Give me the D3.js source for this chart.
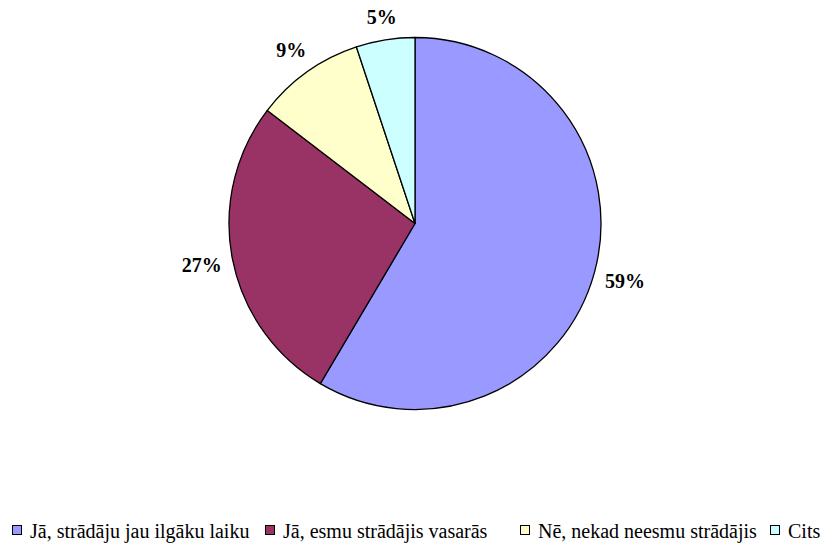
<!DOCTYPE html>
<html>
<head>
<meta charset="utf-8">
<script src="https://cdn.jsdelivr.net/npm/d3@7"></script>
<style>
  html, body { margin: 0; padding: 0; background: #fff; }
  svg { display: block; }
</style>
</head>
<body>
<svg id="chart" width="825" height="545"></svg>
<script>
// ---- data ----
const categories = [
  "Jā, strādāju jau ilgāku laiku",
  "Jā, esmu strādājis vasarās",
  "Nē, nekad neesmu strādājis",
  "Cits"
];
const values = [58.5, 26.9, 9.5, 5.1];
const valueLabels = ["59%", "27%", "9%", "5%"];
const colors = ["#9999FF", "#993366", "#FFFFCC", "#CCFFFF"];

// ---- layout ----
const svg = d3.select("#chart");
const cx = 415, cy = 223.5, r = 186;
const FONT = "Times New Roman, Liberation Serif, DejaVu Serif, serif";

const pie = d3.pie().sort(null).value(d => d)
  .startAngle(0).endAngle(2 * Math.PI);
const arcs = pie(values);
const arc = d3.arc().innerRadius(0).outerRadius(r);

const g = svg.append("g").attr("transform", `translate(${cx},${cy})`);
g.selectAll("path.slice").data(arcs).enter().append("path")
  .attr("class", "slice")
  .attr("d", arc)
  .attr("fill", (d, i) => colors[i])
  .attr("stroke", "#000")
  .attr("stroke-width", 1.3)
  .attr("stroke-linejoin", "round");

// labels outside, positioned so the box sits a fixed gap away from the arc
const gap = 9.5;
g.selectAll("text.lbl").data(arcs).enter().append("text")
  .attr("class", "lbl")
  .attr("font-family", FONT)
  .attr("font-weight", "bold")
  .attr("font-size", 20)
  .attr("text-anchor", "middle")
  .text((d, i) => valueLabels[i])
  .each(function (d) {
    const w = this.getComputedTextLength();
    const a = (d.startAngle + d.endAngle) / 2;
    const sx = Math.sin(a), cyy = -Math.cos(a);
    const hw = w / 2, hh = 11;
    const ext = Math.abs(sx) * hw + Math.abs(cyy) * hh;
    const dist = r + gap + ext;
    d3.select(this).attr("x", sx * dist).attr("y", cyy * dist + 7);
  });

// legend
const legendX = [12, 265, 520, 770];
const ly = 525;
const legend = svg.append("g").attr("class", "legend");
categories.forEach((c, i) => {
  const lx = legendX[i];
  const item = legend.append("g");
  item.append("rect")
    .attr("x", lx + 0.5).attr("y", ly + 0.5)
    .attr("width", 9).attr("height", 9)
    .attr("fill", colors[i])
    .attr("stroke", "#000").attr("stroke-width", 1);
  item.append("text")
    .attr("x", lx + 18).attr("y", ly + 13)
    .attr("font-family", FONT)
    .attr("font-size", 20)
    .attr("fill", "#000")
    .text(c);
});
</script>
</body>
</html>
